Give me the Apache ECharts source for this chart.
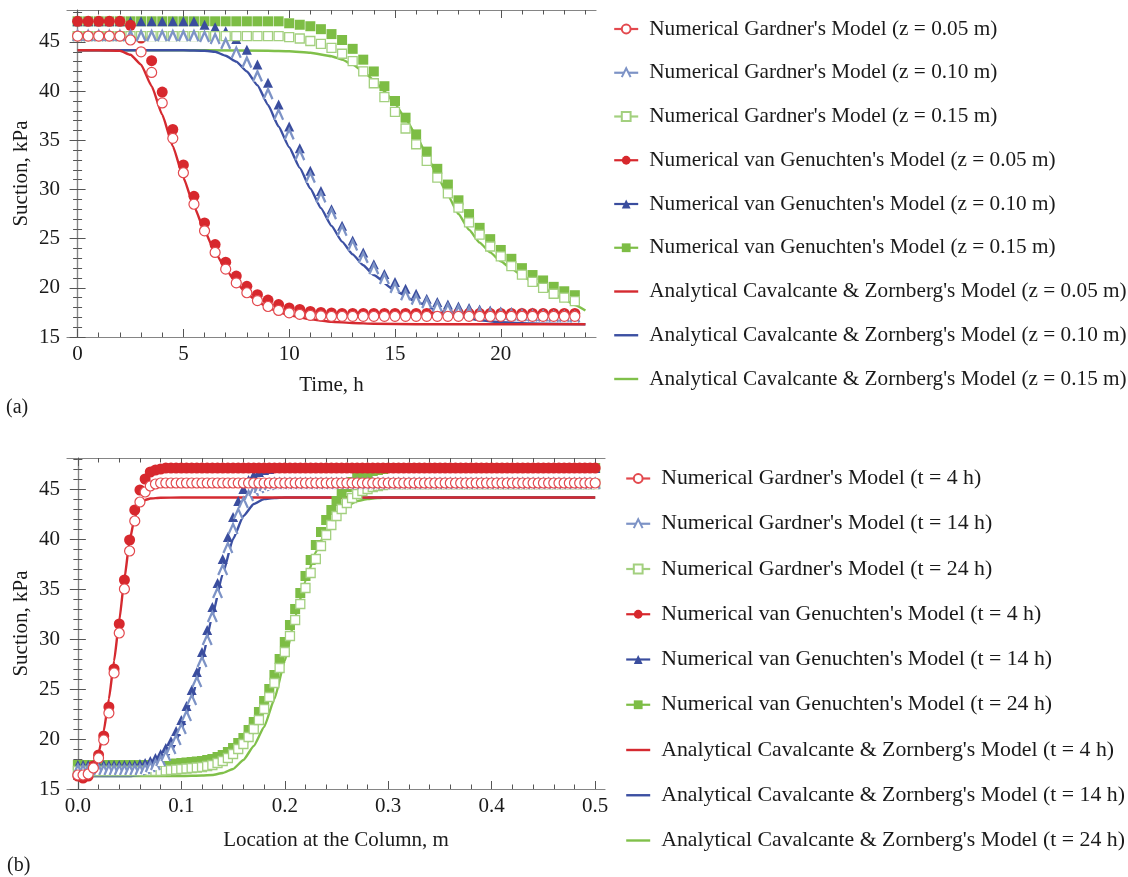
<!DOCTYPE html>
<html><head><meta charset="utf-8">
<script src="https://cdn.jsdelivr.net/npm/echarts@6/dist/echarts.min.js"></script>
<style>html,body{margin:0;padding:0;background:#fff}#c{width:1128px;height:877px}</style>
</head><body><div id="c"></div><script>
// ---------- (a) Suction vs time ----------
const timeSteps = [0,0.5,1,1.5,2,2.5,3,3.5,4,4.5,5,5.5,6,6.5,7,7.5,8,8.5,9,9.5,10,10.5,11,11.5,12,12.5,13,13.5,14,14.5,15,15.5,16,16.5,17,17.5,18,18.5,19,19.5,20,20.5,21,21.5,22,22.5,23,23.5];
const gardnerZ005 = [45.6,45.6,45.6,45.6,45.6,45.2,44.0,41.9,38.8,35.2,31.7,28.5,25.8,23.6,21.9,20.5,19.5,18.7,18.1,17.7,17.45,17.3,17.2,17.15,17.1,17.1,17.1,17.1,17.1,17.1,17.1,17.1,17.1,17.1,17.1,17.1,17.1,17.1,17.1,17.1,17.1,17.1,17.1,17.1,17.1,17.1,17.1,17.1];
const gardnerZ010 = [45.6,45.6,45.6,45.6,45.6,45.6,45.6,45.6,45.6,45.6,45.6,45.6,45.5,45.3,44.8,43.9,42.9,41.5,39.7,37.6,35.6,33.5,31.2,29.2,27.5,25.8,24.3,23.05,21.9,20.9,20.0,19.25,18.8,18.45,18.1,17.85,17.65,17.5,17.4,17.3,17.25,17.2,17.15,17.1,17.1,17.05,17.05,17.0];
const gardnerZ015 = [45.6,45.6,45.6,45.6,45.6,45.6,45.6,45.6,45.6,45.6,45.6,45.6,45.6,45.6,45.6,45.6,45.6,45.6,45.6,45.6,45.5,45.35,45.1,44.8,44.4,43.8,43.05,42.0,40.8,39.4,37.9,36.2,34.6,32.9,31.2,29.6,28.15,26.65,25.4,24.2,23.2,22.2,21.35,20.6,20.0,19.4,19.0,18.65];
const vgZ005 = [47.1,47.1,47.1,47.1,47.1,46.7,45.4,43.1,39.9,36.1,32.5,29.3,26.6,24.4,22.6,21.2,20.15,19.3,18.75,18.3,17.95,17.8,17.6,17.5,17.45,17.4,17.4,17.4,17.4,17.4,17.4,17.4,17.4,17.4,17.4,17.4,17.4,17.4,17.4,17.4,17.4,17.4,17.4,17.4,17.4,17.4,17.4,17.4];
const vgZ010 = [47.1,47.1,47.1,47.1,47.1,47.1,47.1,47.1,47.1,47.1,47.1,47.1,46.75,46.5,46.1,45.3,44.2,42.7,40.85,38.65,36.4,34.2,31.9,29.85,28.0,26.3,24.8,23.6,22.4,21.4,20.6,19.9,19.4,18.9,18.55,18.3,18.1,17.95,17.8,17.7,17.6,17.55,17.5,17.5,17.45,17.45,17.4,17.4];
const vgZ015 = [47.1,47.1,47.1,47.1,47.1,47.1,47.1,47.1,47.1,47.1,47.1,47.1,47.1,47.1,47.1,47.1,47.1,47.1,47.1,47.1,46.9,46.75,46.6,46.3,45.8,45.2,44.3,43.2,42.0,40.5,39.0,37.3,35.6,33.85,32.1,30.5,28.9,27.5,26.1,24.95,23.85,22.95,22.0,21.3,20.75,20.1,19.65,19.25];
const anaTimeZ005 = [0,1,2,2.5,3,3.5,4,4.5,5,5.5,6,6.5,7,7.5,8,8.5,9,9.5,10,11,12,13,14,16,20,24];
const anaZ005 = [44.15,44.15,44.1,43.7,42.7,40.5,37.6,34.4,31.2,28.3,25.8,23.6,21.9,20.5,19.4,18.6,18.0,17.55,17.2,16.8,16.55,16.42,16.35,16.3,16.3,16.3];
const anaTimeZ010 = [0,5,6,6.5,7,7.5,8,8.5,9,9.5,10,10.5,11,11.5,12,12.5,13,13.5,14,15,16,17,18,19,20,21,22,24];
const anaZ010 = [44.15,44.15,44.1,44.0,43.6,43.0,42.0,40.6,38.6,36.4,34.3,32.2,30.1,28.1,26.3,24.7,23.4,22.3,21.3,19.7,18.6,17.7,17.1,16.7,16.5,16.4,16.35,16.3];
const anaTimeZ015 = [0,6,9,10,11,12,12.5,13,13.5,14,14.5,15,15.5,16,16.5,17,17.5,18,18.5,19,19.5,20,20.5,21,21.5,22,22.5,23,23.5,24];
const anaZ015 = [44.15,44.15,44.1,44.05,43.9,43.55,43.2,42.7,42.0,41.1,40.0,38.7,37.2,35.5,33.5,31.4,29.4,27.5,25.9,24.6,23.6,22.7,21.95,21.25,20.6,20.0,19.4,18.8,18.25,17.7];
const timeMajorTicks = [0,5,10,15,20];
const timeMinorTicks = [0,1,2,3,4,5,6,7,8,9,10,11,12,13,14,15,16,17,18,19,20,21,22,23,24];
const suctionMajorTicks = [15,20,25,30,35,40,45];
const suctionMinorTicks = [15,16,17,18,19,20,21,22,23,24,25,26,27,28,29,30,31,32,33,34,35,36,37,38,39,40,41,42,43,44,45,46,47,48];

// ---------- (b) Suction vs location ----------
const depthSteps = [0,0.005,0.01,0.015,0.02,0.025,0.03,0.035,0.04,0.045,0.05,0.055,0.06,0.065,0.07,0.075,0.08,0.085,0.09,0.095,0.1,0.105,0.11,0.115,0.12,0.125,0.13,0.135,0.14,0.145,0.15,0.155,0.16,0.165,0.17,0.175,0.18,0.185,0.19,0.195,0.2,0.205,0.21,0.215,0.22,0.225,0.23,0.235,0.24,0.245,0.25,0.255,0.26,0.265,0.27,0.275,0.28,0.285,0.29,0.295,0.3,0.305,0.31,0.315,0.32,0.325,0.33,0.335,0.34,0.345,0.35,0.355,0.36,0.365,0.37,0.375,0.38,0.385,0.39,0.395,0.4,0.405,0.41,0.415,0.42,0.425,0.43,0.435,0.44,0.445,0.45,0.455,0.46,0.465,0.47,0.475,0.48,0.485,0.49,0.495,0.5];
const gardnerT4 = [16.4,16.4,16.5,17.1,18.1,19.9,22.6,26.6,30.6,35.0,38.8,41.8,43.7,44.7,45.3,45.5,45.6,45.6,45.6,45.6,45.6,45.6,45.6,45.6,45.6,45.6,45.6,45.6,45.6,45.6,45.6,45.6,45.6,45.6,45.6,45.6,45.6,45.6,45.6,45.6,45.6,45.6,45.6,45.6,45.6,45.6,45.6,45.6,45.6,45.6,45.6,45.6,45.6,45.6,45.6,45.6,45.6,45.6,45.6,45.6,45.6,45.6,45.6,45.6,45.6,45.6,45.6,45.6,45.6,45.6,45.6,45.6,45.6,45.6,45.6,45.6,45.6,45.6,45.6,45.6,45.6,45.6,45.6,45.6,45.6,45.6,45.6,45.6,45.6,45.6,45.6,45.6,45.6,45.6,45.6,45.6,45.6,45.6,45.6,45.6,45.6];
const gardnerT14 = [16.9,16.9,16.9,16.9,16.9,16.9,16.9,16.9,16.9,16.9,16.9,16.9,16.9,17.0,17.2,17.4,17.8,18.3,19.0,19.9,21.0,22.3,23.9,25.7,27.7,29.9,32.2,34.6,36.9,39.1,41.0,42.5,43.6,44.3,44.8,45.1,45.3,45.4,45.5,45.5,45.5,45.5,45.5,45.5,45.5,45.5,45.5,45.5,45.5,45.5,45.5,45.5,45.5,45.5,45.5,45.5,45.5,45.5,45.5,45.5,45.5,45.5,45.5,45.5,45.5,45.5,45.5,45.5,45.5,45.5,45.5,45.5,45.5,45.5,45.5,45.5,45.5,45.5,45.5,45.5,45.5,45.5,45.5,45.5,45.5,45.5,45.5,45.5,45.5,45.5,45.5,45.5,45.5,45.5,45.5,45.5,45.5,45.5,45.5,45.5,45.5];
const gardnerT24 = [16.8,16.8,16.8,16.8,16.8,16.8,16.8,16.8,16.8,16.8,16.8,16.8,16.8,16.8,16.8,16.8,16.8,16.85,16.9,16.95,17.0,17.05,17.1,17.15,17.2,17.3,17.4,17.6,17.8,18.1,18.5,19.0,19.5,20.2,21.0,21.9,23.0,24.2,25.6,27.1,28.7,30.3,31.9,33.5,35.1,36.6,38.0,39.3,40.4,41.4,42.3,43.0,43.6,44.1,44.5,44.8,45.0,45.2,45.3,45.4,45.5,45.5,45.5,45.5,45.5,45.5,45.5,45.5,45.5,45.5,45.5,45.5,45.5,45.5,45.5,45.5,45.5,45.5,45.5,45.5,45.5,45.5,45.5,45.5,45.5,45.5,45.5,45.5,45.5,45.5,45.5,45.5,45.5,45.5,45.5,45.5,45.5,45.5,45.5,45.5,45.5];
const vgT4 = [16.3,16.1,16.3,17.3,18.4,20.3,23.2,27.0,31.5,35.9,39.9,42.9,44.9,46.0,46.7,46.9,47.0,47.1,47.1,47.1,47.1,47.1,47.1,47.1,47.1,47.1,47.1,47.1,47.1,47.1,47.1,47.1,47.1,47.1,47.1,47.1,47.1,47.1,47.1,47.1,47.1,47.1,47.1,47.1,47.1,47.1,47.1,47.1,47.1,47.1,47.1,47.1,47.1,47.1,47.1,47.1,47.1,47.1,47.1,47.1,47.1,47.1,47.1,47.1,47.1,47.1,47.1,47.1,47.1,47.1,47.1,47.1,47.1,47.1,47.1,47.1,47.1,47.1,47.1,47.1,47.1,47.1,47.1,47.1,47.1,47.1,47.1,47.1,47.1,47.1,47.1,47.1,47.1,47.1,47.1,47.1,47.1,47.1,47.1,47.1,47.1];
const vgT14 = [17.4,17.4,17.4,17.4,17.4,17.4,17.4,17.4,17.4,17.4,17.4,17.4,17.5,17.6,17.8,18.1,18.5,19.1,19.8,20.8,21.9,23.3,24.9,26.7,28.7,30.9,33.2,35.6,38.0,40.2,42.2,43.8,45.0,45.9,46.4,46.7,46.9,47.0,47.1,47.1,47.1,47.1,47.1,47.1,47.1,47.1,47.1,47.1,47.1,47.1,47.1,47.1,47.1,47.1,47.1,47.1,47.1,47.1,47.1,47.1,47.1,47.1,47.1,47.1,47.1,47.1,47.1,47.1,47.1,47.1,47.1,47.1,47.1,47.1,47.1,47.1,47.1,47.1,47.1,47.1,47.1,47.1,47.1,47.1,47.1,47.1,47.1,47.1,47.1,47.1,47.1,47.1,47.1,47.1,47.1,47.1,47.1,47.1,47.1,47.1,47.1];
const vgT24 = [17.4,17.4,17.4,17.4,17.4,17.4,17.4,17.4,17.4,17.4,17.4,17.4,17.4,17.4,17.4,17.4,17.4,17.45,17.5,17.55,17.6,17.65,17.7,17.75,17.8,17.9,18.0,18.2,18.4,18.7,19.1,19.6,20.1,20.9,21.7,22.7,23.8,25.0,26.4,28.0,29.7,31.4,33.0,34.6,36.3,37.9,39.4,40.7,41.9,42.9,43.8,44.6,45.2,45.7,46.1,46.4,46.6,46.8,46.9,47.0,47.1,47.1,47.1,47.1,47.1,47.1,47.1,47.1,47.1,47.1,47.1,47.1,47.1,47.1,47.1,47.1,47.1,47.1,47.1,47.1,47.1,47.1,47.1,47.1,47.1,47.1,47.1,47.1,47.1,47.1,47.1,47.1,47.1,47.1,47.1,47.1,47.1,47.1,47.1,47.1,47.1];
const anaDepthT4 = [0,0.005,0.01,0.015,0.02,0.025,0.03,0.035,0.04,0.045,0.05,0.055,0.06,0.065,0.07,0.08,0.1,0.5];
const anaT4 = [16.3,16.3,16.5,17.2,18.6,20.8,24.0,27.8,31.8,36.0,39.8,42.2,43.4,43.9,44.05,44.12,44.15,44.15];
const anaDepthT14 = [0,0.05,0.06,0.07,0.08,0.09,0.1,0.11,0.12,0.13,0.14,0.15,0.16,0.17,0.18,0.19,0.2,0.5];
const anaT14 = [16.3,16.3,16.4,16.7,17.4,18.7,20.9,24.0,27.9,32.3,36.5,40.0,42.3,43.5,44.0,44.1,44.15,44.15];
const anaDepthT24 = [0,0.1,0.12,0.13,0.14,0.15,0.16,0.17,0.18,0.19,0.2,0.21,0.22,0.23,0.24,0.25,0.26,0.27,0.28,0.29,0.3,0.5];
const anaT24 = [16.3,16.3,16.35,16.4,16.6,17.0,17.9,19.3,21.2,24.0,27.8,32.2,35.8,38.7,40.8,42.3,43.3,43.8,44.0,44.1,44.15,44.15];
const depthMajorTicks = [0,0.1,0.2,0.3,0.4,0.5];
const depthMinorTicks = [0,0.02,0.04,0.06,0.08,0.1,0.12,0.14,0.16,0.18,0.2,0.22,0.24,0.26,0.28,0.3,0.32,0.34,0.36,0.38,0.4,0.42,0.44,0.46,0.48,0.5];

const legendA = ["Numerical Gardner's Model (z = 0.05 m)","Numerical Gardner's Model (z = 0.10 m)","Numerical Gardner's Model (z = 0.15 m)","Numerical van Genuchten's Model (z = 0.05 m)","Numerical van Genuchten's Model (z = 0.10 m)","Numerical van Genuchten's Model (z = 0.15 m)","Analytical Cavalcante & Zornberg's Model (z = 0.05 m)","Analytical Cavalcante & Zornberg's Model (z = 0.10 m)","Analytical Cavalcante & Zornberg's Model (z = 0.15 m)"];
const legendB = ["Numerical Gardner's Model (t = 4 h)","Numerical Gardner's Model (t = 14 h)","Numerical Gardner's Model (t = 24 h)","Numerical van Genuchten's Model (t = 4 h)","Numerical van Genuchten's Model (t = 14 h)","Numerical van Genuchten's Model (t = 24 h)","Analytical Cavalcante & Zornberg's Model (t = 4 h)","Analytical Cavalcante & Zornberg's Model (t = 14 h)","Analytical Cavalcante & Zornberg's Model (t = 24 h)"];

// ---------- styling ----------
const FONT = 'Liberation Serif';
const FS = 21;
const COL = {redV:'#d7282d', redG:'#e3494e', blueV:'#3a4d9e', blueG:'#7d93c6', greenV:'#7dbd45', greenG:'#a3d07f',
             redA:'#d52a30', blueA:'#3c50a2', greenA:'#80c04a'};
const CHEVRON = 'path://M0,10L5,0L10,10';

function pairs(xs, ys){ return xs.map((x,i)=>[x, ys[i]]); }

function makeAxes(grid, isX, min, max, majors, minors, name, nameGap, fmt){
  const common = {gridIndex:grid, type:'value', min:min, max:max, splitLine:{show:false}, scale:false};
  const line = {show:true, lineStyle:{color:'#858585', width:1.2}};
  const pos = isX ? ['bottom','top'] : ['left','right'];
  const list = [];
  [0,1].forEach(side=>{
    list.push(Object.assign({}, common, {
      position:pos[side], axisLine:line,
      axisTick:{show:true, inside:true, length:8, customValues:majors, lineStyle:{color:'#555', width:1}},
      axisLabel:{show:side===0, customValues:majors, formatter:fmt, margin:7, fontFamily:FONT, fontSize:FS, color:'#1a1a1a'},
      name: side===0 ? name : '', nameLocation:'middle', nameGap:nameGap,
      nameTextStyle:{fontFamily:FONT, fontSize:FS, color:'#1a1a1a'}
    }));
    list.push(Object.assign({}, common, {
      position:pos[side], axisLine:{show:false},
      axisTick:{show:true, inside:true, length:4.5, customValues:minors, lineStyle:{color:'#555', width:1}},
      axisLabel:{show:false}
    }));
  });
  return list;
}

const xAxes = [].concat(
  makeAxes(0, true, -0.5, 24.5, timeMajorTicks, timeMinorTicks, 'Time, h', 38, v=>String(v)),
  makeAxes(1, true, -0.0105, 0.5095, depthMajorTicks, depthMinorTicks, 'Location at the Column, m', 41, v=>v.toFixed(1))
);
const yAxes = [].concat(
  makeAxes(0, false, 15, 48.25, suctionMajorTicks, suctionMinorTicks, 'Suction, kPa', 35, v=>String(v)),
  makeAxes(1, false, 15, 48.1, suctionMajorTicks, suctionMinorTicks, 'Suction, kPa', 35, v=>String(v))
);

function analytical(name, grid, data, color){
  return {name, type:'line', xAxisIndex:grid*4, yAxisIndex:grid*4, data, symbol:'none', smooth:0.15, smoothMonotone:'x',
          lineStyle:{color, width:2.4, join:'round'}, itemStyle:{color}, z:2, silent:true};
}
function numeric(name, grid, data, symbol, size, color, fill, border){
  return {name, type:'line', xAxisIndex:grid*4, yAxisIndex:grid*4, data, symbol, symbolSize:size, showSymbol:true, showAllSymbol:true,
          lineStyle:{color, width:2, opacity:0}, itemStyle:{color:fill, borderColor:color, borderWidth:border}, z:3, silent:true};
}

const series = [
  analytical(legendA[8], 0, pairs(anaTimeZ015, anaZ015), COL.greenA),
  analytical(legendA[7], 0, pairs(anaTimeZ010, anaZ010), COL.blueA),
  analytical(legendA[6], 0, pairs(anaTimeZ005, anaZ005), COL.redA),
  numeric(legendA[5], 0, pairs(timeSteps, vgZ015), 'rect', 10, COL.greenV, COL.greenV, 0),
  numeric(legendA[4], 0, pairs(timeSteps, vgZ010), 'triangle', 10, COL.blueV, COL.blueV, 0),
  numeric(legendA[3], 0, pairs(timeSteps, vgZ005), 'circle', 11, COL.redV, COL.redV, 0),
  numeric(legendA[2], 0, pairs(timeSteps, gardnerZ015), 'rect', 9, COL.greenG, '#fff', 1.3),
  numeric(legendA[1], 0, pairs(timeSteps, gardnerZ010), CHEVRON, [9,10], COL.blueG, '#fff', 2.4),
  numeric(legendA[0], 0, pairs(timeSteps, gardnerZ005), 'circle', 10, COL.redG, '#fff', 1.2),

  analytical(legendB[8], 1, pairs(anaDepthT24, anaT24), COL.greenA),
  analytical(legendB[7], 1, pairs(anaDepthT14, anaT14), COL.blueA),
  analytical(legendB[6], 1, pairs(anaDepthT4, anaT4), COL.redA),
  numeric(legendB[5], 1, pairs(depthSteps, vgT24), 'rect', 10, COL.greenV, COL.greenV, 0),
  numeric(legendB[4], 1, pairs(depthSteps, vgT14), 'triangle', 10, COL.blueV, COL.blueV, 0),
  numeric(legendB[3], 1, pairs(depthSteps, vgT4), 'circle', 11, COL.redV, COL.redV, 0),
  numeric(legendB[2], 1, pairs(depthSteps, gardnerT24), 'rect', 9, COL.greenG, '#fff', 1.3),
  numeric(legendB[1], 1, pairs(depthSteps, gardnerT14), CHEVRON, [9,10], COL.blueG, '#fff', 2.4),
  numeric(legendB[0], 1, pairs(depthSteps, gardnerT4), 'circle', 10, COL.redG, '#fff', 1.2)
];

function legendData(names){
  return names.map((n,i)=> i<6 ? {name:n, lineStyle:{opacity:1, width:2.2}} : {name:n, itemStyle:{opacity:0}, lineStyle:{opacity:1, width:2.4}});
}
function legendText(size){ return {fontFamily:FONT, fontSize:size, color:'#1a1a1a', lineHeight:21, padding:[0,0,0,6]}; }

const option = {
  animation:false,
  backgroundColor:'#fff',
  grid:[
    {left:67, top:10, right:532, bottom:540, containLabel:false},
    {left:67, top:458, right:523, bottom:88, containLabel:false}
  ],
  xAxis:xAxes,
  yAxis:yAxes,
  legend:[
    {data:legendData(legendA), orient:'vertical', left:613, top:18.5, padding:0, itemGap:22.75, itemWidth:24, itemHeight:11,
     textStyle:legendText(21.25), selectedMode:false},
    {data:legendData(legendB), orient:'vertical', left:625, top:467.5, padding:0, itemGap:23.25, itemWidth:24, itemHeight:11,
     textStyle:legendText(21.8), selectedMode:false}
  ],
  graphic:[
    {type:'text', left:6, top:398, style:{text:'(a)', font:'20px "Liberation Serif"', fill:'#1a1a1a'}},
    {type:'text', left:7, top:856, style:{text:'(b)', font:'20px "Liberation Serif"', fill:'#1a1a1a'}}
  ],
  series:series
};
const chart = echarts.init(document.getElementById('c'), null, {renderer:'canvas'});
chart.setOption(option);
</script></body></html>
